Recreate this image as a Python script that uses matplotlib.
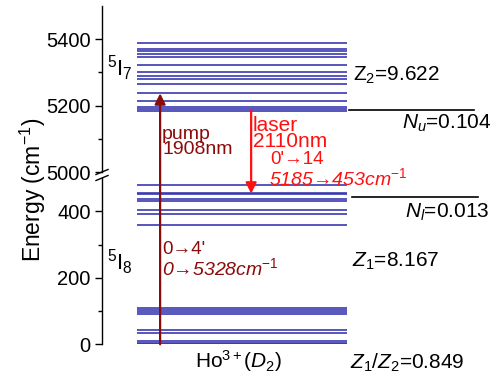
import matplotlib
matplotlib.use("Agg")
import matplotlib.pyplot as plt
from matplotlib.lines import Line2D

plt.rcParams['font.family'] = ['Liberation Sans', 'DejaVu Sans']
plt.rcParams['mathtext.fontset'] = 'custom'
plt.rcParams['mathtext.rm'] = 'Liberation Sans'
plt.rcParams['mathtext.it'] = 'Liberation Sans:italic'

# Stark levels (cm^-1)
levels_5I7 = [5185, 5190, 5196, 5213, 5237, 5266, 5280, 5290, 5302, 5323,
              5346, 5356, 5363, 5370, 5390]
levels_5I8 = [0, 4, 9, 33, 43, 91, 96, 104, 110,
              358, 393, 405, 431, 438, 451, 455, 478]

pump_from, pump_to = 0, 5237
laser_from, laser_to = 5185, 453
boundary_upper = 5186
boundary_lower = 444

upper_ticks = [5000, 5200, 5400]
lower_ticks = [0, 200, 400]

lvl_color = '#3535b0'
pump_color = '#8b0a0a'
laser_color = '#ff1010'
fs = 15

fig = plt.figure(figsize=(4.91, 3.79), dpi=100)
W, H = 491, 379
x0, x1 = 101.7 / W, 481 / W
ax_top = fig.add_axes([x0, 1 - 172 / H, x1 - x0, 166 / H])
ax_bot = fig.add_axes([x0, 1 - 344.3 / H, x1 - x0, 166.3 / H])

for ax in (ax_top, ax_bot):
    ax.set_facecolor('none')
    ax.set_xlim(0, 10)
    for s in ('top', 'right', 'bottom'):
        ax.spines[s].set_visible(False)
    ax.spines['left'].set_linewidth(1.0)
    ax.tick_params(axis='x', bottom=False, labelbottom=False)
    ax.tick_params(axis='y', which='major', length=5, width=1, labelsize=14.5,
                   direction='out', pad=3)
    ax.tick_params(axis='y', which='minor', length=3, width=1, direction='out')

ax_top.set_ylim(5000, 5500)
ax_top.set_yticks(upper_ticks)
ax_top.set_yticks([5100, 5300], minor=True)
ax_bot.set_ylim(0, 500)
ax_bot.set_yticks(lower_ticks)
ax_bot.set_yticks([100, 300], minor=True)

# energy levels
for e in levels_5I7:
    ax_top.plot([0.93, 6.47], [e, e], color=lvl_color, lw=1.3, alpha=0.9,
                solid_capstyle='butt')
for e in levels_5I8:
    ax_bot.plot([0.93, 6.47], [e, e], color=lvl_color, lw=1.3, alpha=0.9,
                solid_capstyle='butt')

# population boundaries
ax_top.plot([6.52, 9.82], [boundary_upper, boundary_upper], color='black', lw=1.2)
ax_bot.plot([6.60, 9.92], [boundary_lower, boundary_lower], color='black', lw=1.2)

# pump and laser arrows spanning both axes
ax_bot.annotate('', xy=(1.54, pump_to), xycoords=ax_top.transData,
                xytext=(1.54, pump_from), textcoords=ax_bot.transData,
                arrowprops=dict(arrowstyle='-|>', color=pump_color, lw=1.6,
                                mutation_scale=16, shrinkA=0, shrinkB=0),
                annotation_clip=False, zorder=5)
ax_bot.annotate('', xy=(3.94, laser_to), xycoords=ax_bot.transData,
                xytext=(3.94, laser_from), textcoords=ax_top.transData,
                arrowprops=dict(arrowstyle='-|>', color=laser_color, lw=1.6,
                                mutation_scale=16, shrinkA=0, shrinkB=0),
                annotation_clip=False, zorder=5)

# break marks on the axis
for yp in (172, 178):
    fig.add_artist(Line2D([96 / W, 108 / W], [1 - (yp + 2.5) / H, 1 - (yp - 2.5) / H],
                          color='black', lw=1.0, transform=fig.transFigure))

# labels
fig.text(33 / W, 1 - 190 / H, 'Energy (cm$^{-1}$)', rotation=90, ha='center',
         va='center', fontsize=16.5)

ax_top.text(0.14, 5314, r'$^{5}$I$_{7}$', fontsize=16, ha='left', va='center')
ax_bot.text(0.14, 248, r'$^{5}$I$_{8}$', fontsize=16, ha='left', va='center')

ax_top.text(1.59, 5140, 'pump\n1908nm', color=pump_color, fontsize=14,
            ha='left', va='top', linespacing=0.85)
ax_bot.text(1.59, 285, "0→4'", color=pump_color, fontsize=13.5, ha='left', va='center')
ax_bot.text(1.59, 228, '0→5328cm$^{-1}$', color=pump_color, fontsize=14,
            ha='left', va='center', style='italic')

ax_top.text(3.99, 5170, 'laser\n2110nm', color=laser_color, fontsize=fs,
            ha='left', va='top', linespacing=0.85)
ax_top.text(4.44, 5038, "0'→14", color=laser_color, fontsize=13.5,
            ha='left', va='center', clip_on=False)
ax_bot.text(4.42, 500, '5185→453cm$^{-1}$', color=laser_color, fontsize=14,
            ha='left', va='center', style='italic', clip_on=False)

ax_top.text(6.62, 5290, 'Z$_2$=9.622', fontsize=fs, ha='left', va='center')
ax_top.text(7.92, 5146, '$N_u$=0.104', fontsize=fs, ha='left', va='center')
ax_bot.text(8.0, 398, '$N_l$=0.013', fontsize=fs, ha='left', va='center')
ax_bot.text(6.59, 248, '$Z_1$=8.167', fontsize=fs, ha='left', va='center')
ax_bot.text(6.55, -55, '$Z_1$/$Z_2$=0.849', fontsize=fs, ha='left', va='center',
            clip_on=False)
ax_bot.text(2.46, -49, 'Ho$^{3+}$($D_2$)', fontsize=fs, ha='left', va='center',
            clip_on=False)

fig.savefig('out.png', dpi=100)
